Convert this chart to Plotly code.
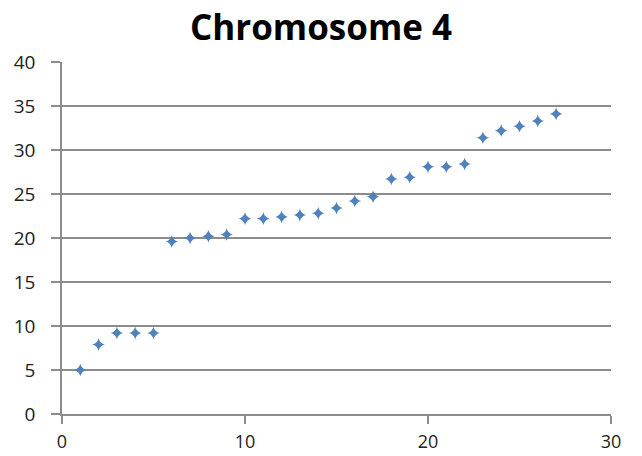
import plotly.graph_objects as go

# Marker positions along chromosome 4
positions = list(range(1, 28))
values = [5.0, 7.9, 9.2, 9.2, 9.2, 19.6, 20.0, 20.2, 20.4, 22.2,
          22.2, 22.4, 22.6, 22.8, 23.4, 24.2, 24.7, 26.7, 26.9, 28.1,
          28.1, 28.4, 31.4, 32.2, 32.7, 33.3, 34.1]

x_ticks = [0, 10, 20, 30]
y_ticks = [0, 5, 10, 15, 20, 25, 30, 35, 40]

grid = "#8c8c8c"
font = "'Open Sans', Lato, sans-serif"

fig = go.Figure(go.Scatter(
    x=positions, y=values, mode="markers",
    marker=dict(symbol="star-diamond", size=9, color="#4f81bd",
                line=dict(width=0)),
))

fig.update_layout(
    width=642, height=456,
    margin=dict(l=62, r=31, t=62, b=42),
    paper_bgcolor="white", plot_bgcolor="white",
    showlegend=False,
    title=dict(text="<b>Chromosome 4</b>", x=0.5, xanchor="center",
               y=0.94, yanchor="middle",
               font=dict(family=font, size=35, color="black")),
    font=dict(family=font, size=19, color="#222222"),
)
fig.update_xaxes(range=[0, 30], tickvals=x_ticks, showgrid=False,
                 showline=True, linecolor=grid, linewidth=1.5,
                 ticks="outside", ticklen=8, tickcolor=grid, tickwidth=1.5,
                 tickfont=dict(size=18), ticklabelstandoff=3,
                 automargin=False, zeroline=False, fixedrange=True)
fig.update_yaxes(range=[0, 40], tickvals=y_ticks, showgrid=True,
                 gridcolor=grid, gridwidth=1.5,
                 showline=True, linecolor=grid, linewidth=1.5,
                 ticks="outside", ticklen=9, tickcolor=grid, tickwidth=1.5,
                 ticklabelstandoff=12, automargin=False,
                 zeroline=False, fixedrange=True)

fig.write_html("out.html", config={"displayModeBar": False})
